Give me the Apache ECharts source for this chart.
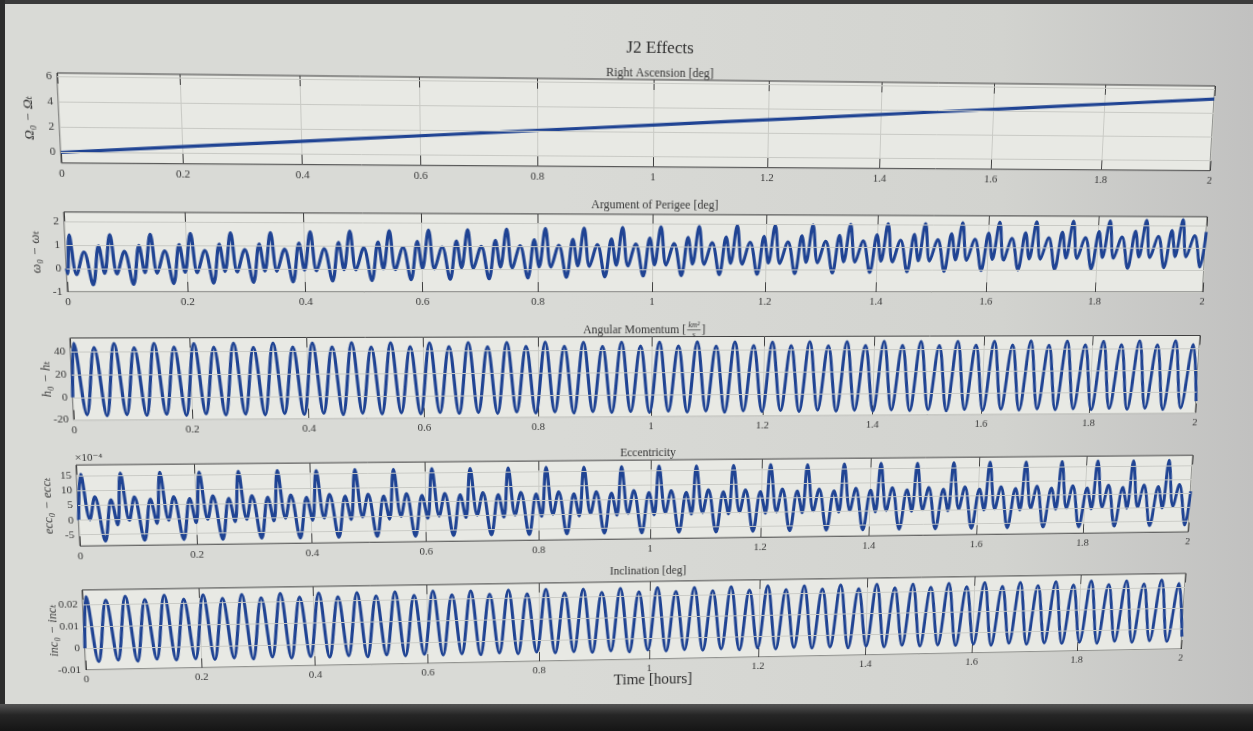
<!DOCTYPE html>
<html>
<head>
<meta charset="utf-8">
<title>J2 Effects</title>
<script src="https://cdn.jsdelivr.net/npm/echarts@6/dist/echarts.min.js"></script>
<style>
  html, body { margin: 0; padding: 0; width: 1253px; height: 731px; overflow: hidden; }
  body { background: linear-gradient(90deg, #d9dad6 0%, #d9dad6 45%, #d2d3cf 80%, #c1c1c0 100%); position: relative; }
  #chart { position: absolute; left: 0; top: 0; width: 1253px; height: 731px; transform-origin: 0 0; }
  .edge-top { position: absolute; left: 0; top: 0; width: 1253px; height: 4px; background: #3b3b3b; }
  .edge-left { position: absolute; left: 0; top: 0; width: 5px; height: 731px; background: #2c2c2c; }
  .edge-bottom { position: absolute; left: 0; top: 704px; width: 1253px; height: 27px; background: linear-gradient(#555 0%, #262626 40%, #151515 100%); }
</style>
</head>
<body>
<div class="edge-top"></div>
<div class="edge-left"></div>
<div class="edge-bottom"></div>
<div id="chart"></div>
<script>
// ---------------------------------------------------------------
// Time grid of the propagation (hours)
// ---------------------------------------------------------------
const orbitHours = 0.0672;      // orbital period
const perigeeStart = 0.007;     // first perigee pass
const halfStart = 0.006;        // first maximum of the twice-per-orbit terms

// Turning points inside one orbit (fraction of the period)
const argPhase = [0, 0.14, 0.345, 0.54, 0.71, 0.835];
const eccPhase = [0, 0.18, 0.33, 0.55, 0.735, 0.88];

// ---------------------------------------------------------------
// Right ascension of the ascending node [deg]
// ---------------------------------------------------------------
const raanHours = [0, 0.25, 0.5, 0.75, 1, 1.25, 1.5, 1.75, 2];
const raanDeg   = [0, 0.65, 1.3, 1.95, 2.6, 3.25, 3.9, 4.55, 5.2];

// ---------------------------------------------------------------
// Argument of perigee [deg]: per orbit
// [max, min, max, deep min, max, min]
// ---------------------------------------------------------------
const argHead = [[0, 0], [0.0015, -0.22]];
const argRows = [
  [1.42, -0.25, 0.71, -0.69, 0.97, -0.20],
  [1.45, -0.22, 0.74, -0.67, 0.99, -0.17],
  [1.47, -0.19, 0.76, -0.63, 1.03, -0.15],
  [1.51, -0.17, 0.78, -0.61, 1.05, -0.11],
  [1.54, -0.13, 0.83, -0.58, 1.07, -0.09],
  [1.56, -0.10, 0.85, -0.56, 1.11, -0.05],
  [1.60, -0.08, 0.87, -0.52, 1.14, -0.03],
  [1.63, -0.04, 0.91, -0.50, 1.16, 0.01],
  [1.65, -0.02, 0.94, -0.46, 1.20, 0.03],
  [1.69, 0.01, 0.96, -0.44, 1.22, 0.06],
  [1.71, 0.04, 0.99, -0.42, 1.25, 0.09],
  [1.74, 0.06, 1.02, -0.38, 1.28, 0.11],
  [1.77, 0.10, 1.04, -0.35, 1.31, 0.15],
  [1.79, 0.13, 1.08, -0.33, 1.33, 0.18],
  [1.83, 0.15, 1.11, -0.29, 1.37, 0.20],
  [1.86, 0.19, 1.13, -0.27, 1.40, 0.24],
  [1.88, 0.22, 1.17, -0.23, 1.42, 0.27],
  [1.92, 0.24, 1.20, -0.21, 1.46, 0.29],
  [1.94, 0.27, 1.22, -0.18, 1.49, 0.32],
  [1.97, 0.30, 1.25, -0.15, 1.51, 0.35],
  [2.00, 0.33, 1.27, -0.12, 1.54, 0.38],
  [2.03, 0.35, 1.31, -0.09, 1.57, 0.40],
  [2.05, 0.39, 1.34, -0.07, 1.60, 0.44],
  [2.09, 0.42, 1.36, -0.03, 1.63, 0.47],
  [2.12, 0.44, 1.40, 0.00, 1.65, 0.49],
  [2.14, 0.48, 1.43, 0.03, 1.69, 0.53],
  [2.18, 0.51, 1.45, 0.05, 1.72, 0.56],
  [2.20, 0.53, 1.48, 0.08, 1.74, 0.58],
  [2.23, 0.56, 1.51, 0.11, 1.77, 0.61],
  [2.26, 0.59, 1.54, 0.14, 1.80, 0.64]
];
const argTail = [[2, 1.72]];

// ---------------------------------------------------------------
// Angular momentum [km^2/s]: per half orbit [max, min]
// ---------------------------------------------------------------
const hHead = [[0, 0]];
const hPeaks = [
  47.3, 43.6, 47.0, 43.4, 47.2, 43.7, 46.9, 43.5, 47.1, 43.3,
  47.2, 43.6, 47.0, 43.5, 47.3, 43.4, 47.1, 43.6, 46.9, 43.5,
  47.2, 43.4, 47.0, 43.6, 47.3, 43.5, 47.1, 43.3, 47.2, 43.6,
  47.0, 43.5, 47.3, 43.4, 47.1, 43.7, 46.9, 43.5, 47.2, 43.4,
  47.0, 43.6, 47.3, 43.5, 47.1, 43.4, 47.2, 43.6, 47.0, 43.5,
  47.3, 43.4, 47.1, 43.6, 46.9, 43.5, 47.2, 43.4, 47.0, 43.6
];
const hTroughs = [
  -15.4, -16.5, -15.6, -16.3, -15.5, -16.6, -15.3, -16.4, -15.6, -16.5,
  -15.4, -16.4, -15.5, -16.6, -15.6, -16.3, -15.4, -16.5, -15.5, -16.4,
  -15.6, -16.5, -15.3, -16.4, -15.5, -16.6, -15.4, -16.3, -15.6, -16.5,
  -15.5, -16.4, -15.4, -16.6, -15.6, -16.3, -15.5, -16.5, -15.3, -16.4,
  -15.6, -16.5, -15.4, -16.3, -15.5, -16.6, -15.6, -16.4, -15.4, -16.5,
  -15.5, -16.3, -15.6, -16.5, -15.4, -16.4, -15.5, -16.6, -15.3, -16.4
];
const hTail = [[2, -9]];

// ---------------------------------------------------------------
// Eccentricity (x 1e-4): per orbit [max, min, max, deep min, max, min]
// ---------------------------------------------------------------
const eccHead = [[0, 0]];
const eccRows = [
  [15.6, 0.2, 7.9, -7.2, 6.8, -1.7],
  [15.8, -0.2, 7.7, -7.1, 6.9, -1.4],
  [16.0, -0.3, 7.6, -7.0, 7.0, -1.3],
  [15.9, -0.2, 7.8, -7.1, 6.9, -1.1],
  [16.1, -0.3, 7.7, -6.9, 7.1, -1.0],
  [16.2, -0.1, 7.8, -7.0, 7.0, -0.9],
  [16.1, -0.2, 7.9, -6.9, 7.2, -0.8],
  [16.3, 0.0, 7.8, -6.8, 7.1, -0.8],
  [16.2, 0.1, 7.9, -6.9, 7.2, -0.7],
  [16.4, 0.0, 7.8, -6.8, 7.3, -0.6],
  [16.3, 0.2, 8.0, -6.7, 7.2, -0.6],
  [16.4, 0.1, 7.9, -6.8, 7.3, -0.5],
  [16.5, 0.2, 8.0, -6.7, 7.2, -0.5],
  [16.4, 0.3, 7.9, -6.6, 7.3, -0.4],
  [16.5, 0.2, 8.1, -6.7, 7.4, -0.4],
  [16.6, 0.3, 8.0, -6.6, 7.3, -0.3],
  [16.5, 0.2, 8.1, -6.7, 7.4, -0.4],
  [16.6, 0.3, 8.0, -6.6, 7.3, -0.3],
  [16.7, 0.2, 8.1, -6.6, 7.4, -0.3],
  [16.6, 0.3, 8.0, -6.5, 7.3, -0.2],
  [16.7, 0.3, 8.1, -6.6, 7.4, -0.3],
  [16.8, 0.2, 8.2, -6.5, 7.4, -0.2],
  [16.7, 0.3, 8.1, -6.6, 7.5, -0.2],
  [16.8, 0.4, 8.2, -6.5, 7.4, -0.1],
  [16.9, 0.3, 8.1, -6.5, 7.5, -0.2],
  [16.8, 0.4, 8.2, -6.4, 7.5, -0.1],
  [16.9, 0.3, 8.2, -6.5, 7.4, -0.1],
  [17.0, 0.4, 8.3, -6.4, 7.5, 0.0],
  [16.9, 0.4, 8.2, -6.4, 7.6, -0.1],
  [17.0, 0.5, 8.3, -6.3, 7.5, 0.0]
];
const eccTail = [[2, 5.8]];

// ---------------------------------------------------------------
// Inclination [deg]: per half orbit [max, min]
// ---------------------------------------------------------------
const incHead = [[0, 0]];
const incPeaks = [
  0.0235, 0.0217, 0.0234, 0.0218, 0.0236, 0.0216, 0.0235, 0.0217, 0.0234, 0.0218,
  0.0236, 0.0217, 0.0235, 0.0216, 0.0234, 0.0218, 0.0235, 0.0217, 0.0236, 0.0217,
  0.0234, 0.0218, 0.0235, 0.0216, 0.0236, 0.0217, 0.0234, 0.0218, 0.0235, 0.0217,
  0.0236, 0.0216, 0.0234, 0.0218, 0.0235, 0.0217, 0.0236, 0.0218, 0.0234, 0.0217,
  0.0235, 0.0216, 0.0236, 0.0217, 0.0234, 0.0218, 0.0235, 0.0217, 0.0236, 0.0216,
  0.0234, 0.0218, 0.0235, 0.0217, 0.0236, 0.0217, 0.0234, 0.0218, 0.0235, 0.0217
];
const incTroughs = [
  -0.0063, -0.0057, -0.0064, -0.0056, -0.0062, -0.0058, -0.0063, -0.0057, -0.0064, -0.0056,
  -0.0063, -0.0058, -0.0062, -0.0057, -0.0064, -0.0056, -0.0063, -0.0057, -0.0062, -0.0058,
  -0.0064, -0.0057, -0.0063, -0.0056, -0.0062, -0.0058, -0.0063, -0.0057, -0.0064, -0.0056,
  -0.0063, -0.0058, -0.0062, -0.0057, -0.0064, -0.0056, -0.0063, -0.0057, -0.0062, -0.0058,
  -0.0064, -0.0057, -0.0063, -0.0056, -0.0062, -0.0058, -0.0063, -0.0057, -0.0064, -0.0056,
  -0.0063, -0.0058, -0.0062, -0.0057, -0.0064, -0.0056, -0.0063, -0.0057, -0.0062, -0.0058
];
const incTail = [[2, -0.004]];

// ---------------------------------------------------------------
// Axis ticks
// ---------------------------------------------------------------
const timeTickStep = 0.2;
const raanTicks = [0, 2, 4, 6];
const argTicks = [-1, 0, 1, 2];
const hTicks = [-20, 0, 20, 40];
const eccTicks = [-5, 0, 5, 10, 15];
const incTicks = [-0.01, 0, 0.01, 0.02];

// Place the turning points of each orbit on the time grid
function onTimeGrid(rows, phases, start, period) {
  const pts = [];
  rows.forEach((row, k) => {
    row.forEach((v, j) => {
      const t = start + (k + phases[j]) * period;
      if (t <= 2) pts.push([t, v]);
    });
  });
  return pts;
}
function zip(a, b) { return a.map((v, i) => [v, b[i]]); }

const raanData = zip(raanHours, raanDeg);
const argData = argHead.concat(onTimeGrid(argRows, argPhase, perigeeStart, orbitHours), argTail);
const hData = hHead.concat(onTimeGrid(zip(hPeaks, hTroughs), [0, 0.5], halfStart, orbitHours / 2), hTail);
const eccData = eccHead.concat(onTimeGrid(eccRows, eccPhase, perigeeStart, orbitHours), eccTail);
const incData = incHead.concat(onTimeGrid(zip(incPeaks, incTroughs), [0, 0.5], halfStart, orbitHours / 2), incTail);

// ---------------------------------------------------------------
// Viewing geometry: the figure is seen slightly oblique, so the flat
// figure rectangle is mapped onto a quadrilateral (projective warp).
// ---------------------------------------------------------------
const flatRect = { x0: 57, y0: 73, x1: 1215, y1: 670 };
const viewQuad = [[57, 73], [1215, 86], [1181, 649], [86, 670]]; // TL, TR, BR, BL

function buildWarp(r, q) {
  const [[x0, y0], [x1, y1], [x2, y2], [x3, y3]] = q;
  const dx1 = x1 - x2, dx2 = x3 - x2, dx3 = x0 - x1 + x2 - x3;
  const dy1 = y1 - y2, dy2 = y3 - y2, dy3 = y0 - y1 + y2 - y3;
  const det = dx1 * dy2 - dx2 * dy1;
  const g = (dx3 * dy2 - dx2 * dy3) / det;
  const h = (dx1 * dy3 - dx3 * dy1) / det;
  const a = x1 - x0 + g * x1, b = x3 - x0 + h * x3, c = x0;
  const d = y1 - y0 + g * y1, e = y3 - y0 + h * y3, f = y0;
  const W = r.x1 - r.x0, H = r.y1 - r.y0;
  return [
    [a / W, b / H, c - a * r.x0 / W - b * r.y0 / H],
    [d / W, e / H, f - d * r.x0 / W - e * r.y0 / H],
    [g / W, h / H, 1 - g * r.x0 / W - h * r.y0 / H]
  ];
}
function invert3(m) {
  const [[a, b, c], [d, e, f], [g, h, i]] = m;
  const A = e * i - f * h, B = -(d * i - f * g), C = d * h - e * g;
  const det = a * A + b * B + c * C;
  return [
    [A / det, -(b * i - c * h) / det, (b * f - c * e) / det],
    [B / det, (a * i - c * g) / det, -(a * f - c * d) / det],
    [C / det, -(a * h - b * g) / det, (a * e - b * d) / det]
  ];
}
const warp = buildWarp(flatRect, viewQuad);
const unwarp = invert3(warp);
function toFlat(x, y) {
  const w = unwarp[2][0] * x + unwarp[2][1] * y + unwarp[2][2];
  return [(unwarp[0][0] * x + unwarp[0][1] * y + unwarp[0][2]) / w,
          (unwarp[1][0] * x + unwarp[1][1] * y + unwarp[1][2]) / w];
}
// a point on the left frame edge as seen, back in flat coordinates
function leftEdgeFlatY(y) {
  const t = (y - viewQuad[0][1]) / (viewQuad[3][1] - viewQuad[0][1]);
  const x = viewQuad[0][0] + t * (viewQuad[3][0] - viewQuad[0][0]);
  return toFlat(x, y)[1];
}

// ---------------------------------------------------------------
// Styling and layout
// ---------------------------------------------------------------
const SERIF = 'Liberation Serif, DejaVu Serif, serif';
const TEXT = '#363636';
const FRAME = '#3e3e3e';
const GRIDLINE = '#c9cac5';
const PLOT_BG = '#e8e9e4';
const LINE = '#1f4393';

const panels = [
  { name: 'Ω₀ − Ωₜ',     min: -0.85, max: 6.3,    ticks: raanTicks, data: raanData,
    edge: [73, 163],  nameGap: 22 },
  { name: 'ω₀ − ωₜ',     min: -1,    max: 2.4,    ticks: argTicks,  data: argData,
    edge: [212, 292], nameGap: 22 },
  { name: 'h₀ − hₜ',     min: -20,   max: 52,     ticks: hTicks,    data: hData,
    edge: [338, 420], nameGap: 18 },
  { name: 'ecc₀ − eccₜ', min: -8.8,  max: 18.7,   ticks: eccTicks,  data: eccData,
    edge: [465, 546], nameGap: 23 },
  { name: 'inc₀ − incₜ', min: -0.01, max: 0.0265, ticks: incTicks,  data: incData,
    edge: [590, 670], nameGap: 24 }
];

const labelStyle = { color: TEXT, fontFamily: SERIF, fontSize: 11 };

const grids = panels.map(p => {
  const top = leftEdgeFlatY(p.edge[0]);
  const bottom = leftEdgeFlatY(p.edge[1]);
  return {
    left: flatRect.x0, right: 1253 - flatRect.x1, top: top, height: bottom - top,
    show: true, backgroundColor: PLOT_BG, borderColor: FRAME, borderWidth: 1
  };
});

const xAxes = [];
panels.forEach((p, i) => {
  xAxes.push({
    type: 'value', gridIndex: i, position: 'bottom', min: 0, max: 2, interval: timeTickStep,
    axisLine: { show: false, onZero: false },
    axisTick: { show: true, inside: true, length: 10, lineStyle: { color: FRAME } },
    axisLabel: Object.assign({ margin: 5, formatter: v => String(+v.toFixed(1)) }, labelStyle),
    splitLine: { show: true, lineStyle: { color: GRIDLINE, width: 1 } }
  });
});
panels.forEach((p, i) => {
  xAxes.push({
    type: 'value', gridIndex: i, position: 'top', min: 0, max: 2, interval: timeTickStep,
    axisLine: { show: false, onZero: false },
    axisTick: { show: true, inside: true, length: 10, lineStyle: { color: FRAME } },
    axisLabel: { show: false }, splitLine: { show: false }
  });
});

const yAxes = [];
panels.forEach((p, i) => {
  yAxes.push({
    type: 'value', gridIndex: i, position: 'left', min: p.min, max: p.max,
    axisLine: { show: false, onZero: false },
    axisTick: { show: true, inside: true, length: 10, customValues: p.ticks, lineStyle: { color: FRAME } },
    axisLabel: Object.assign({ margin: 5, customValues: p.ticks, formatter: v => String(v) }, labelStyle),
    splitLine: { show: false },
    name: p.name, nameLocation: 'middle', nameRotate: 90, nameGap: p.nameGap, nameMoveOverlap: false,
    nameTextStyle: { color: TEXT, fontFamily: SERIF, fontSize: 13, fontStyle: 'italic' }
  });
});
panels.forEach((p, i) => {
  yAxes.push({
    type: 'value', gridIndex: i, position: 'right', min: p.min, max: p.max,
    axisLine: { show: false, onZero: false },
    axisTick: { show: true, inside: true, length: 10, customValues: p.ticks, lineStyle: { color: FRAME } },
    axisLabel: { show: false }, splitLine: { show: false }
  });
});

const series = [];
// horizontal grid lines at the y ticks
panels.forEach((p, i) => {
  series.push({
    type: 'line', xAxisIndex: i, yAxisIndex: i, z: 1, silent: true,
    data: [[0, p.ticks[0]]], showSymbol: false, lineStyle: { opacity: 0 },
    markLine: {
      silent: true, symbol: ['none', 'none'], animation: false,
      label: { show: false },
      lineStyle: { color: GRIDLINE, width: 1, type: 'solid' },
      emphasis: { disabled: true },
      data: p.ticks.map(v => ({ yAxis: v }))
    }
  });
});
// the five time histories
panels.forEach((p, i) => {
  series.push({
    type: 'line', xAxisIndex: i, yAxisIndex: i, z: 3,
    data: p.data, showSymbol: false, smooth: 0.36, clip: true,
    lineStyle: { color: LINE, width: 3.2 },
    emphasis: { disabled: true }
  });
});

// text placed where it is seen, converted back to flat coordinates
function textAt(x, y, text, font, align, fill) {
  const [fx, fy] = toFlat(x, y);
  return { type: 'text', x: fx, y: fy,
    style: { text: text, font: font, fill: fill || TEXT, align: align || 'center', verticalAlign: 'middle' } };
}
const titleFont = '12px ' + SERIF;
const hTitle = toFlat(650, 330);
const graphic = [
  textAt(660, 48, 'J2 Effects', '17px ' + SERIF, 'center', '#2f2f2f'),
  textAt(660, 73, 'Right Ascension [deg]', titleFont),
  textAt(655, 205, 'Argument of Perigee [deg]', titleFont),
  { type: 'group', x: hTitle[0], y: hTitle[1], children: [
      { type: 'text', x: 37, y: 0, style: { text: 'Angular Momentum [', font: titleFont, fill: TEXT, align: 'right', verticalAlign: 'middle' } },
      { type: 'text', x: 45, y: -5, style: { text: 'km²', font: 'italic 8px ' + SERIF, fill: TEXT, align: 'center', verticalAlign: 'middle' } },
      { type: 'line', shape: { x1: 38, y1: 0, x2: 52, y2: 0 }, style: { stroke: TEXT, lineWidth: 0.7 } },
      { type: 'text', x: 45, y: 5, style: { text: 's', font: 'italic 8px ' + SERIF, fill: TEXT, align: 'center', verticalAlign: 'middle' } },
      { type: 'text', x: 53, y: 0, style: { text: ']', font: titleFont, fill: TEXT, align: 'left', verticalAlign: 'middle' } }
  ] },
  textAt(648, 453, 'Eccentricity', titleFont),
  textAt(75, 458, '×10⁻⁴', '11px ' + SERIF, 'left'),
  textAt(648, 571, 'Inclination [deg]', titleFont),
  textAt(653, 680, 'Time [hours]', '16px ' + SERIF, 'center', '#2f2f2f')
];

const chartDom = document.getElementById('chart');
chartDom.style.transform = 'matrix3d(' + [
  warp[0][0], warp[1][0], 0, warp[2][0],
  warp[0][1], warp[1][1], 0, warp[2][1],
  0, 0, 1, 0,
  warp[0][2], warp[1][2], 0, warp[2][2]
].join(',') + ')';

const chart = echarts.init(chartDom, null, { renderer: 'canvas' });
chart.setOption({
  animation: false,
  backgroundColor: 'transparent',
  grid: grids,
  xAxis: xAxes,
  yAxis: yAxes,
  series: series,
  graphic: graphic
});
</script>
</body>
</html>
